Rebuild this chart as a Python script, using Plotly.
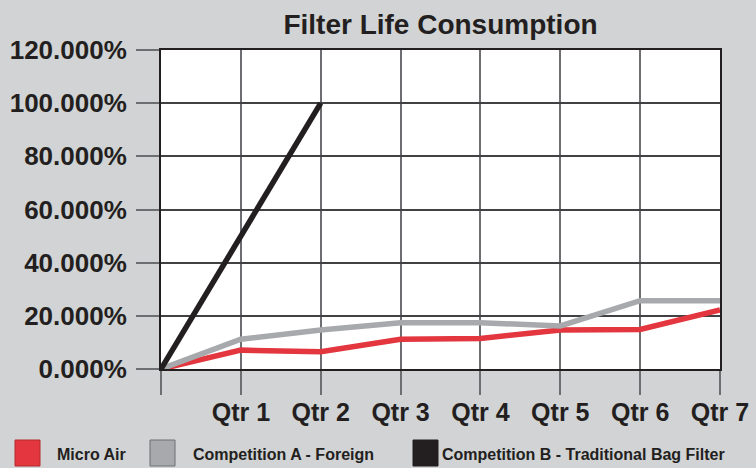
import plotly.graph_objects as go

categories = ["", "Qtr 1", "Qtr 2", "Qtr 3", "Qtr 4", "Qtr 5", "Qtr 6", "Qtr 7"]
micro_air = [0.0, 7.1, 6.5, 11.2, 11.5, 14.7, 14.9, 22.2]
competition_a = [0.0, 11.2, 14.7, 17.4, 17.4, 16.2, 25.7, 25.7]
competition_b = [0.0, 50.0, 100.0]
y_ticks = [0, 20, 40, 60, 80, 100, 120]
y_tick_labels = [f"{v:.3f}%" for v in y_ticks]

series_names = ["Micro Air", "Competition A - Foreign", "Competition B - Traditional Bag Filter"]
series_colors = ["#e3363e", "#a7a9ac", "#231f20"]
series_edges = ["#b52a30", "#6d6e71", "#231f20"]

BG = "#d1d3d4"
TXT = "#231f20"
W, H = 756, 468
L, R, T, B = 161, 720, 50, 369

x_idx = list(range(len(categories)))

fig = go.Figure()
for name, vals, col in zip(series_names, [micro_air, competition_a, competition_b], series_colors):
    fig.add_trace(go.Scatter(
        x=x_idx[:len(vals)], y=vals, mode="lines", name=name,
        line=dict(color=col, width=5.5), showlegend=False, hoverinfo="skip"))

def px_x(p):
    return (p - L) / (R - L)

def px_y(p):
    return (B - p) / (B - T)

# manual legend (squares + labels), positioned in paper coords
legend_sq = [(15, 40), (150, 175), (413, 438)]
legend_tx = [55, 191, 440]
for (x0, x1), tx, name, col, edge in zip(legend_sq, legend_tx, series_names, series_colors, series_edges):
    fig.add_shape(type="rect", xref="paper", yref="paper",
                  x0=px_x(x0), x1=px_x(x1), y0=px_y(466), y1=px_y(440),
                  fillcolor=col, line=dict(color=edge, width=1))
    fig.add_annotation(xref="paper", yref="paper", x=px_x(tx), y=px_y(454),
                       text=name, showarrow=False, xanchor="left", yanchor="middle",
                       font=dict(family="Liberation Sans, Arial, sans-serif",
                                 size=16, color=TXT, weight="bold"))

fig.update_layout(
    width=W, height=H,
    margin=dict(l=L, r=W - R, t=T, b=H - B, pad=0, autoexpand=False),
    paper_bgcolor=BG, plot_bgcolor="white",
    title=dict(text="<b>Filter Life Consumption</b>", x=(L + R) / 2 / W, xanchor="center",
               y=1 - 24 / H, yanchor="middle", automargin=False,
               font=dict(family="Liberation Sans, Arial, sans-serif", size=28, color=TXT)),
    font=dict(family="Liberation Sans, Arial, sans-serif", color=TXT),
)
fig.update_xaxes(
    range=[0, len(categories) - 1], tickmode="array", tickvals=x_idx, ticktext=categories,
    showgrid=True, gridcolor="#6d6e71", gridwidth=1.5,
    ticks="outside", ticklen=24, tickwidth=1.5, tickcolor="#6d6e71",
    showline=True, linecolor=TXT, linewidth=2, mirror=True,
    tickfont=dict(size=25, color=TXT, weight="bold"), ticklabelstandoff=-4,
    zeroline=False, fixedrange=True, automargin=False,
)
fig.update_yaxes(
    range=[0, 120], tickmode="array", tickvals=y_ticks, ticktext=y_tick_labels,
    showgrid=True, gridcolor="#414042", gridwidth=1.5,
    ticks="outside", ticklen=23, tickwidth=1.5, tickcolor="#6d6e71",
    showline=True, linecolor=TXT, linewidth=2, mirror=True,
    tickfont=dict(size=26, color=TXT, weight="bold"), ticklabelstandoff=4,
    zeroline=False, fixedrange=True, automargin=False,
)

fig.write_html("out.html", config={"displayModeBar": False},
               post_script="document.body.style.margin='0';document.body.style.overflow='hidden';")
